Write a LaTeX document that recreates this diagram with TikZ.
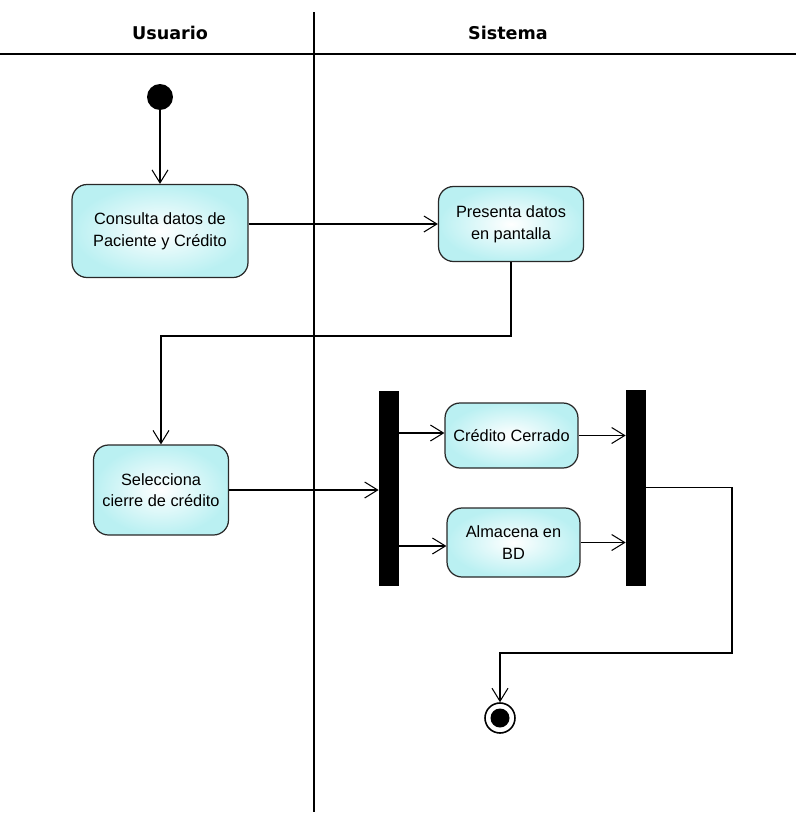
\documentclass[tikz,border=0pt]{standalone}
\usepackage{fontspec}
\setmainfont{Liberation Sans}
\newfontfamily\headfont{DejaVu Sans}
\usetikzlibrary{arrows.meta,positioning}

\definecolor{actfill}{RGB}{186,240,242}
\definecolor{actline}{RGB}{40,40,40}

\tikzset{
  activity/.style={draw=actline, line width=0.7pt, rectangle, rounded corners=0.3cm,
    inner color=white, outer color=actfill, align=center,
    font=\fontsize{9.3}{12.3}\selectfont},
  bar/.style={draw, fill=black, rectangle, inner sep=0pt, minimum width=0.38cm},
  lane/.style={font=\headfont\bfseries\fontsize{10}{12}\selectfont},
  flow/.style={->, line width=0.6pt},
}

\begin{document}
\begin{tikzpicture}[x=0.02cm, y=-0.02cm, >={Straight Barb[length=2.6mm,width=3.2mm]}]
  \useasboundingbox (0,0) rectangle (796,825);

  % swimlanes
  \node [lane] (usuario) at (170,33) {Usuario};
  \node [lane] (sistema) at (508,33) {Sistema};
  \draw [line width=0.6pt] (0,54) -- (796,54);
  \draw [line width=0.6pt] (314,12) -- (314,812);

  % nodes
  \node [circle, fill=black, inner sep=0pt, minimum size=0.52cm] (start) at (160,97) {};
  \node [activity, minimum width=3.52cm, minimum height=1.86cm] (consulta) at (160,231) {Consulta datos de\\Paciente y Crédito};
  \node [activity, minimum width=2.9cm, minimum height=1.5cm] (presenta) at (511,224) {Presenta datos\\en pantalla};
  \node [activity, minimum width=2.7cm, minimum height=1.8cm] (selecciona) at (161,490) {Selecciona\\cierre de crédito};
  \node [bar, minimum height=3.88cm] (fork) at (388.5,488) {};
  \node [activity, minimum width=2.66cm, minimum height=1.3cm] (cerrado) at (511.5,435.5) {Crédito Cerrado};
  \node [activity, minimum width=2.66cm, minimum height=1.38cm] (almacena) at (513.5,542.5) {Almacena en\\BD};
  \node [bar, minimum height=3.9cm] (join) at (635.5,487.5) {};
  \node [circle, draw, line width=0.9pt, fill=white, inner sep=0pt, minimum size=0.6cm] (final) at (500,718) {};
  \node [circle, fill=black, inner sep=0pt, minimum size=0.38cm] at (final) {};

  \coordinate (bend) at (511,336);
  \coordinate (turn) at (732,653);

  % flows
  \draw [flow] (start) -- (consulta);
  \draw [flow] (consulta.east |- presenta.west) -- (presenta.west);
  \draw [flow] (presenta.south) |- (bend) -| (selecciona.north);
  \draw [flow] (selecciona.east) -- (fork.west |- selecciona.east);
  \draw [flow] (fork.east |- 0,433) -- (cerrado.west |- 0,433);
  \draw [flow] (fork.east |- 0,546) -- (almacena.west |- 0,546);
  \draw [flow] (cerrado.east) -- (join.west |- cerrado.east);
  \draw [flow] (almacena.east) -- (join.west |- almacena.east);
  \draw [flow] (join.east) -| (turn) -| (final.north);
\end{tikzpicture}
\end{document}
